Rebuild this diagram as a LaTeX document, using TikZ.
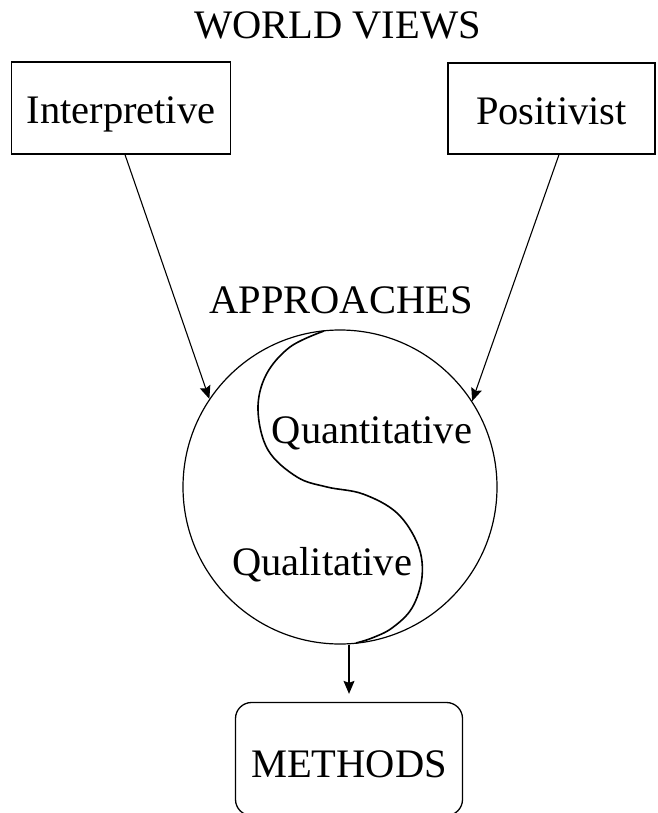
\documentclass[tikz,border=0pt]{standalone}
\usepackage{fontspec}
\setmainfont{Liberation Serif}
\usetikzlibrary{arrows.meta}
\begin{document}
\begin{tikzpicture}[x=1pt,y=-1pt,
  every node/.style={font=\fontsize{40.5}{48}\selectfont, inner sep=0pt},
  viewbox/.style={draw, line width=1.3pt, text height=32pt, text depth=0pt},
  link/.style={line width=1.1pt, -{Stealth[length=13pt,width=11pt,inset=2pt]}},
]
\useasboundingbox (0,0) rectangle (657,813);

% world views
\node[anchor=base] (wv) at (337.5,39) {WORLD VIEWS};
\node[viewbox, minimum width=219pt, minimum height=92pt] (interp) at (121,108) {Interpretive};
\node[viewbox, minimum width=207pt, minimum height=91pt] (posit) at (551.5,108.5) {Positivist};

% approaches
\node[anchor=base] (appr) at (341,313) {APPROACHES};
\node[circle, draw, line width=1.2pt, minimum size=314pt] (circ) at (340,487) {};
\draw[line width=1.6pt, line join=round] plot[smooth, tension=0.6] coordinates {
  (324,331) (290,347) (266,375) (258,410) (268,450) (297,477) (327,487)
  (363,494) (397,513) (418,545) (422,577) (412,608) (392,628) (372,638) (356,643)};
\node[anchor=base] (quant) at (372,443) {Quantitative};
\node[anchor=base] (qual) at (322,575) {Qualitative};

% methods
\node[draw, line width=1.3pt, rounded corners=16pt, minimum width=227pt,
      minimum height=113pt, text height=37pt, text depth=0pt] (meth) at (349,759) {METHODS};

% connectors
\coordinate (i0) at ([xshift=4pt]interp.south);
\coordinate (p0) at ([xshift=7.5pt]posit.south);
\draw[link] (i0) -- (circ.146);
\draw[link] (p0) -- (circ.33);
\draw[link, shorten >=8pt] (circ.south -| meth.north) -- (meth.north);
\end{tikzpicture}
\end{document}
